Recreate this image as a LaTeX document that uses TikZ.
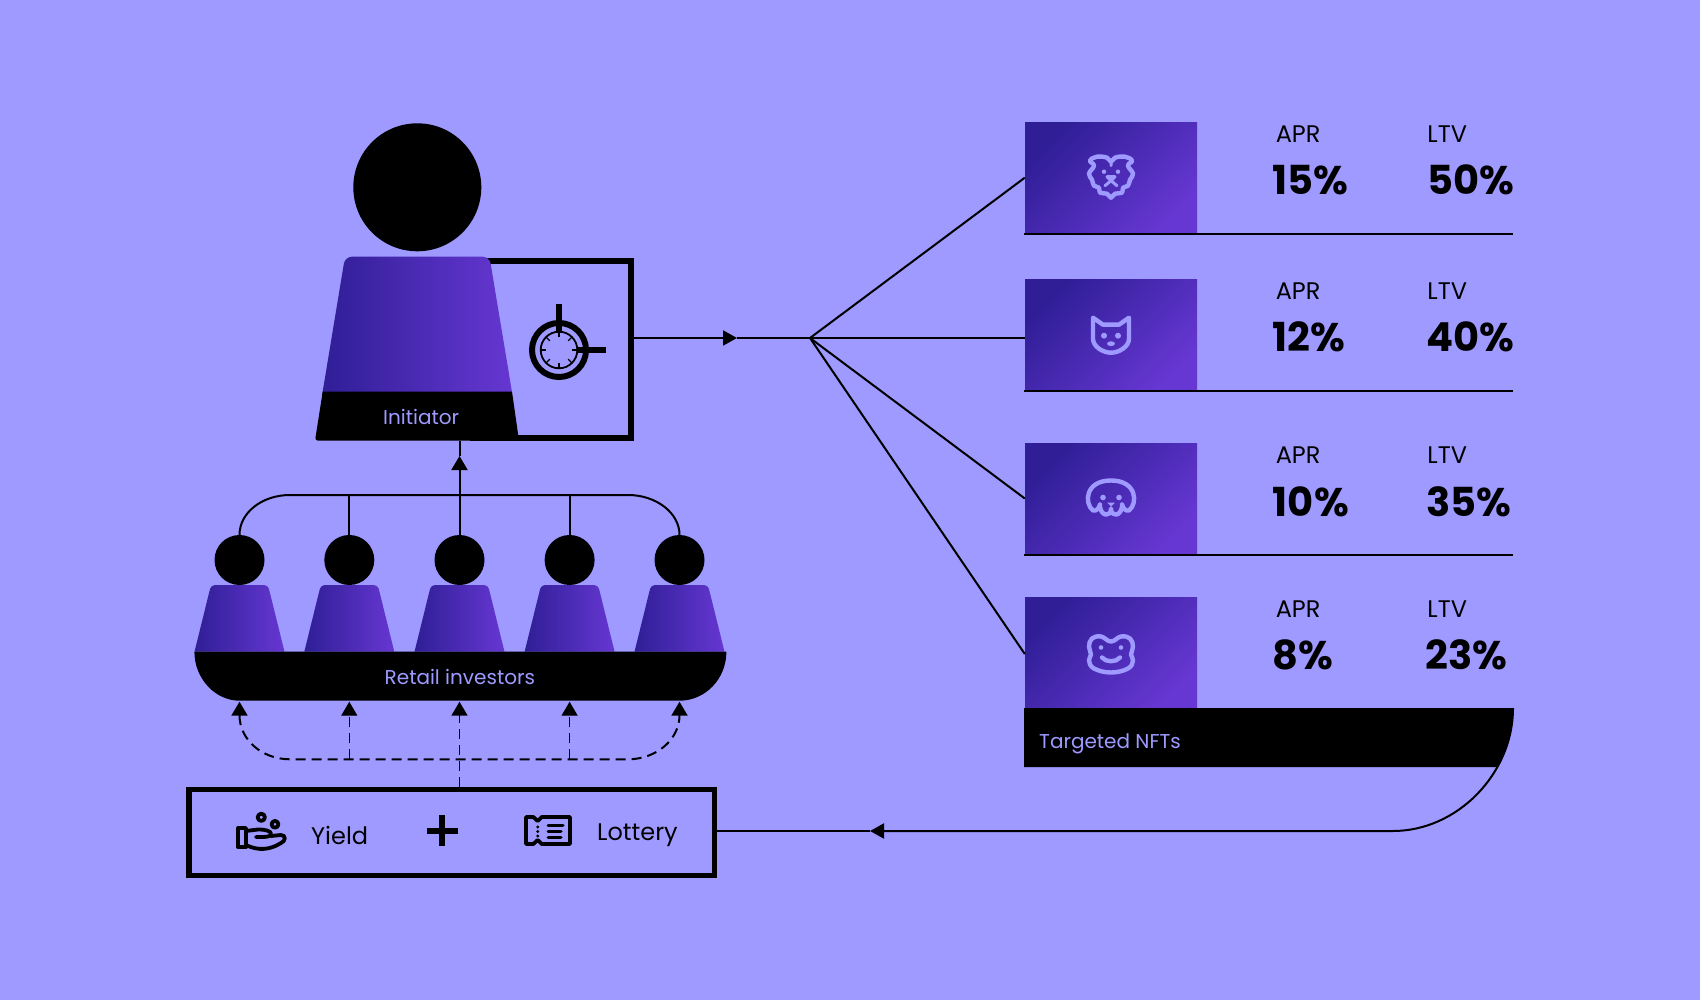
\documentclass[tikz,border=0pt]{standalone}
\usepackage{fontspec}
\setmainfont{Poppins}[BoldFont={Poppins Bold}]
\usetikzlibrary{positioning,calc,arrows.meta}
\definecolor{bgcol}{HTML}{9E9AFF}
\definecolor{deepcol}{HTML}{2F1E96}
\definecolor{brightcol}{HTML}{6637D2}
\tikzset{
bodyfill/.style={left color=deepcol,right color=brightcol},
cardbox/.style={rectangle,draw=none,top color=deepcol,bottom color=brightcol,shading angle=45,minimum width=172pt,minimum height=111pt,inner sep=0pt},
headdot/.style={circle,fill=black,minimum size=50pt,inner sep=0pt},
framebox/.style={rectangle,draw=black,line width=6pt,inner sep=0pt},
wire/.style={draw=black,line width=2pt},
thinrule/.style={draw=black,line width=2pt},
dashwire/.style={draw=black,line width=1.6pt,dash pattern=on 10pt off 6pt},
uptip/.style={-{Triangle[length=14pt,width=16pt]}},
pairtip/.style={{Triangle[length=14pt,width=16pt]}-{Triangle[length=14pt,width=16pt]}},
smalltxt/.style={anchor=base west,inner sep=0pt,font=\fontsize{24}{28}\selectfont},
bigtxt/.style={anchor=base west,inner sep=0pt,font=\fontsize{40}{46}\selectfont\bfseries},
baseltxt/.style={anchor=base west,inner sep=0pt,text=bgcol,font=\fontsize{20}{25}\selectfont},
iconline/.style={draw=bgcol,line width=4.4pt,line join=round,line cap=round},
icondot/.style={fill=bgcol},
glyph/.style={draw=black,line width=3.8pt,line join=round,line cap=round}
}
\begin{document}
\begin{tikzpicture}[x=1pt,y=-1pt]
\fill[bgcol] (0,0) rectangle (1700,1000);
\node[framebox,minimum width=158pt,minimum height=177pt] (initbox) at (552,349.5) {};
\node[headdot,minimum size=128pt] (bighead) at (417.3,187.3) {};
\shade[bodyfill] (322,395.7) [rounded corners=7pt] -- (345,256.7) -- (489.5,256.7) [sharp corners] -- (512.6,395.7) -- cycle;
\fill[black] (322.7,391.7) -- (512,391.7) -- (519,440.7) [rounded corners=3pt] -- (315,440.7) [sharp corners] -- cycle;
\node[baseltxt] (initlabel) at (383,424) {Initiator};
\coordinate (dial) at (559,350);
\node[circle,draw=black,line width=6pt,minimum size=54pt,inner sep=0pt] (dialring) at (dial) {};
\node[circle,draw=black,line width=1.8pt,minimum size=36.6pt,inner sep=0pt] (dialface) at (dial) {};
\foreach \a in {0,45,...,315}
  \draw[black,line width=1.4pt] ([shift={(\a:18)}]dial) -- ([shift={(\a:13)}]dial);
\draw[black,line width=6pt] (559,304) -- (559,331);
\draw[black,line width=6pt] (578,350) -- (605.7,350);
\foreach \i/\x in {1/239.5,2/349.3,3/459.5,4/569.6,5/679.5}{
  \node[headdot] (head\i) at (\x,560) {};
  \shade[bodyfill] (\x-45,651.7) [rounded corners=4pt] -- (\x-28.5,585) -- (\x+28.5,585) [sharp corners] -- (\x+45,651.7) -- cycle;
}
\fill[black] (194.4,651.7) -- (726.4,651.7) .. controls (726.4,678.8) and (705.4,700.7) .. (679.5,700.7) -- (239.5,700.7) .. controls (215.4,700.7) and (194.4,678.8) .. (194.4,651.7) -- cycle;
\node[baseltxt] (invlabel) at (384.5,684) {Retail investors};
\coordinate (wirel) at (290,495);
\coordinate (wirer) at (628,495);
\coordinate (inittip) at (459.5,456);
\draw[wire] (head1.north) .. controls +(0,-22) and +(-28,0) .. (wirel) -- (wirer) .. controls +(28,0) and +(0,-22) .. (head5.north);
\draw[wire] (head2.north) -- (head2 |- wirel);
\draw[wire] (head4.north) -- (head4 |- wirel);
\draw[wire,uptip] (head3.north) -- (inittip);
\draw[wire] (inittip) -- (inittip |- initbox.south);
\node[framebox,line width=5.6pt,minimum width=525.4pt,minimum height=86pt] (rewardbox) at (451.85,832.5) {};
\coordinate (invtip) at (459.5,701.7);
\coordinate (dashl) at (290,759.3);
\coordinate (dashr) at (628,759.3);
\draw[dashwire,pairtip,line width=2pt] (head1 |- invtip) .. controls +(0,38) and +(-28,0) .. (dashl) -- (dashr) .. controls +(28,0) and +(0,38) .. (head5 |- invtip);
\draw[dashwire,uptip,line width=1.3pt] (head2 |- dashl) -- (head2 |- invtip);
\draw[dashwire,uptip,line width=1.3pt] (head4 |- dashl) -- (head4 |- invtip);
\draw[dashwire,uptip] (head3 |- rewardbox.north) -- (invtip);
\draw[glyph] (261.3,817.3) circle (3.6);
\draw[glyph] (275,824.3) circle (3.4);
\draw[glyph] (238.3,828) rectangle (246,847.3);
\draw[glyph] (246,831) -- (258,829.5) .. controls (266,829.5) and (271,831) .. (271,834) .. controls (271,837) and (266,837) .. (256,837);
\draw[glyph] (271,836) -- (281,835) .. controls (286,835) and (286,841) .. (281,843) .. controls (270,850) and (258,851) .. (246,845);
\node[smalltxt] (yieldlabel) at (311,844.3) {Yield};
\fill[black] (426.9,827.7) rectangle (457.9,833.7);
\fill[black] (439.4,815.2) rectangle (445.4,846.2);
\draw[glyph] (526,817) -- (533.3,817) -- (537.7,821) -- (541.7,817) -- (570,817) -- (570,844) -- (541.7,844) -- (537.7,840) -- (533.3,844) -- (526,844) -- cycle;
\foreach \d in {827,831.5,836}
  \fill[black] (537.7,\d) circle (1.7);
\draw[glyph,line width=3pt] (548,825) -- (563,825);
\draw[glyph,line width=3pt] (548,831) -- (561,831);
\draw[glyph,line width=3pt] (548,837) -- (561,837);
\node[smalltxt] (lotterylabel) at (597,840.3) {Lottery};
\foreach \i/\cy/\apry/\bigy/\aprval/\ltvval/\ltvx in {1/177.7/142.3/194.3/15/50/1427/,2/334.7/299.3/351.7/12/40/1426.4/,3/498.5/463.3/516/10/35/1426/,4/652.5/617.3/669.3/8/23/1425.4/}{
  \node[cardbox] (card\i) at (1111,\cy) {};
  \node[smalltxt] (aprhead\i) at (1275.6,\apry) {APR};
  \node[smalltxt] (ltvhead\i) at (1427.2,\apry) {LTV};
  \node[bigtxt] (aprnum\i) at (1272.7,\bigy) {\aprval\%};
  \node[bigtxt] (ltvnum\i) at (\ltvx,\bigy) {\ltvval\%};
}
\foreach \i in {1,2,3}
  \draw[thinrule] (card\i.south west) ++(-1,1) -- ++(489,0);
\coordinate (hub) at (810,338);
\coordinate (flowtip) at (737,338);
\draw[wire,-{Triangle[length=14pt,width=15pt]}] (initbox.east |- hub) -- (flowtip);
\draw[wire] (flowtip) -- (hub);
\draw[wire] (hub) -- (card1.west);
\draw[wire] (hub) -- (card2.west |- hub);
\draw[wire] (hub) -- (card3.west);
\draw[wire] (hub) -- ([yshift=-1.5pt]card4.west);
\coordinate (bendtop) at (1513,708);
\coordinate (bendend) at (1393,831);
\coordinate (backtip) at (870,831);
\draw[wire,-{Triangle[length=14pt,width=15pt]}] (bendtop) .. controls +(0,66) and +(64,0) .. (bendend) -- (backtip);
\draw[wire] (backtip) -- (rewardbox.east |- backtip);
\fill[black] (1024,708) -- (bendtop) .. controls (1513,729) and (1508,749) .. (1498,767) -- (1024,767) -- cycle;
\node[baseltxt] (nftlabel) at (1039,748.3) {Targeted NFTs};
\begin{scope}[shift={(card1.center)}]
\draw[iconline] plot[smooth cycle,tension=.7] coordinates {(0,-16) (4,-20) (14,-21) (21,-17) (17,-12) (22,-4) (19,2) (17,8) (12,10) (11,15) (4,16) (0,20) (-4,16) (-11,15) (-12,10) (-17,8) (-19,2) (-22,-4) (-17,-12) (-21,-17) (-14,-21) (-4,-20)};
\fill[icondot] (-7,-6) circle (2.2) (7,-6) circle (2.2);
\draw[iconline,line width=3pt] (-4,-1) -- (4,-1) -- (0,3) -- cycle (-6,8) -- (0,3) -- (6,8) (0,-16) -- (0,-12);
\end{scope}
\begin{scope}[shift={(card2.center)}]
\draw[iconline] (-18,-17) -- (-8,-10) -- (8,-10) -- (18,-17) -- (18,4) .. controls (18,12) and (8,18) .. (0,18) .. controls (-8,18) and (-18,12) .. (-18,4) -- cycle;
\fill[icondot] (-7,1) circle (3) (7,1) circle (3) (0,9) ellipse (4 and 2.4);
\end{scope}
\begin{scope}[shift={(card3.center)}]
\draw[iconline] (-11,6) .. controls (-12,10) and (-15,13) .. (-18,12) .. controls (-27,5) and (-26,-18) .. (0,-18) .. controls (26,-18) and (27,5) .. (18,12) .. controls (15,13) and (12,10) .. (11,6);
\draw[iconline] (-11,8) .. controls (-10,18) and (0,19) .. (0,10) .. controls (0,19) and (10,18) .. (11,8);
\fill[icondot] (-8,-1) circle (2.8) (8,-1) circle (2.8) (-4,4) -- (4,4) -- (0,8) -- cycle;
\end{scope}
\begin{scope}[shift={(card4.center)}]
\draw[iconline] plot[smooth cycle,tension=.7] coordinates {(0,-11) (-10,-16) (-19,-14) (-22,-6) (-20,2) (-22,8) (-17,16) (0,20) (17,16) (22,8) (20,2) (22,-6) (19,-14) (10,-16)};
\fill[icondot] (-10,-5) circle (2.3) (10,-5) circle (2.3);
\draw[iconline] (-9,5) .. controls (-5,10) and (5,10) .. (9,5);
\end{scope}
\end{tikzpicture}
\end{document}
